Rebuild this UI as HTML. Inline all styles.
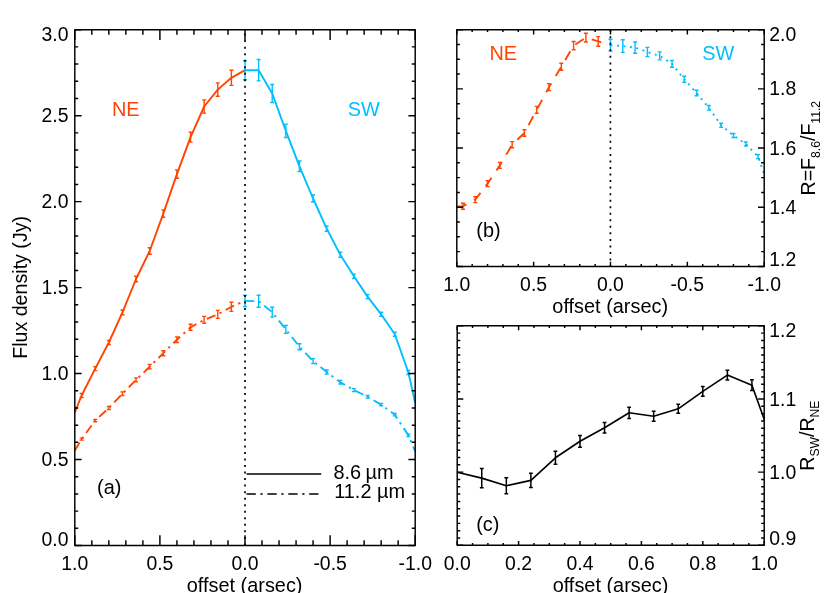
<!DOCTYPE html>
<html><head><meta charset="utf-8"><title>plot</title>
<style>html,body{margin:0;padding:0;background:#fff}svg{display:block;will-change:transform}text{font-family:"Liberation Sans",sans-serif}</style>
</head><body>
<svg width="830" height="593" viewBox="0 0 830 593">
<rect width="830" height="593" fill="#fff"/>
<path d="M74.8 412.5L81.61 395.5L95.22 368.6L108.84 342.5L122.46 312.4L136.07 279L149.69 251L163.3 213.6L176.92 174.1L190.54 137.1L204.15 106.5L217.77 89.6L231.38 77.8L245 70.2" stroke="#FF4500" stroke-width="1.9" fill="none" stroke-linejoin="round"/>
<path d="M81.61 393.5V397.5M79.61 393.5h4M79.61 397.5h4M95.22 366.6V370.6M93.22 366.6h4M93.22 370.6h4M108.84 340.5V344.5M106.84 340.5h4M106.84 344.5h4M122.46 310V314.8M120.46 310h4M120.46 314.8h4M136.07 276.2V281.8M134.07 276.2h4M134.07 281.8h4M149.69 247.8V254.2M147.69 247.8h4M147.69 254.2h4M163.3 209.9V217.3M161.3 209.9h4M161.3 217.3h4M176.92 169.9V178.3M174.92 169.9h4M174.92 178.3h4M190.54 132.1V142.1M188.54 132.1h4M188.54 142.1h4M204.15 99.9V113.1M202.15 99.9h4M202.15 113.1h4M217.77 82.9V96.3M215.77 82.9h4M215.77 96.3h4M231.38 70.2V85.4M229.38 70.2h4M229.38 85.4h4" stroke="#FF4500" stroke-width="1.4" fill="none"/>
<path d="M74.8 450.6L81.61 439.1L95.22 420.6L108.84 408L122.46 393.7L136.07 379.9L149.69 366.7L163.3 353.2L176.92 339.7L190.54 327.3L204.15 319.8L217.77 314.4L231.38 306.8L245 300.9" stroke="#FF4500" stroke-width="1.9" fill="none" stroke-linejoin="round" stroke-dasharray="9.3 4.6 2.3 4.7" stroke-dashoffset="0"/>
<path d="M81.61 438.1V440.1M79.61 438.1h4M79.61 440.1h4M95.22 419.4V421.8M93.22 419.4h4M93.22 421.8h4M108.84 406.5V409.5M106.84 406.5h4M106.84 409.5h4M122.46 391.9V395.5M120.46 391.9h4M120.46 395.5h4M136.07 377.9V381.9M134.07 377.9h4M134.07 381.9h4M149.69 364.5V368.9M147.69 364.5h4M147.69 368.9h4M163.3 350.7V355.7M161.3 350.7h4M161.3 355.7h4M176.92 336.9V342.5M174.92 336.9h4M174.92 342.5h4M190.54 324.3V330.3M188.54 324.3h4M188.54 330.3h4M204.15 316.4V323.2M202.15 316.4h4M202.15 323.2h4M217.77 310.4V318.4M215.77 310.4h4M215.77 318.4h4M231.38 302.2V311.4M229.38 302.2h4M229.38 311.4h4" stroke="#FF4500" stroke-width="1.4" fill="none"/>
<path d="M245 70.2L258.62 70.2L272.23 93.5L285.85 130.8L299.46 166.3L313.08 198.5L326.7 228.6L340.31 254.7L353.93 276.3L367.54 296.6L381.16 314.3L394.78 334.2L408.39 372.5L415.2 403" stroke="#00BFFF" stroke-width="1.9" fill="none" stroke-linejoin="round"/>
<path d="M245 60.7V79.7M243 60.7h4M243 79.7h4M258.62 59.5V80.9M256.62 59.5h4M256.62 80.9h4M272.23 84.5V102.5M270.23 84.5h4M270.23 102.5h4M285.85 124.1V137.5M283.85 124.1h4M283.85 137.5h4M299.46 161V171.6M297.46 161h4M297.46 171.6h4M313.08 195V202M311.08 195h4M311.08 202h4M326.7 226V231.2M324.7 226h4M324.7 231.2h4M340.31 252.2V257.2M338.31 252.2h4M338.31 257.2h4M353.93 274.1V278.5M351.93 274.1h4M351.93 278.5h4M367.54 294.6V298.6M365.54 294.6h4M365.54 298.6h4M381.16 312.3V316.3M379.16 312.3h4M379.16 316.3h4M394.78 332.2V336.2M392.78 332.2h4M392.78 336.2h4M408.39 370.5V374.5M406.39 370.5h4M406.39 374.5h4" stroke="#00BFFF" stroke-width="1.4" fill="none"/>
<path d="M245 300.9L258.62 301.2L272.23 312.2L285.85 329.4L299.46 346.7L313.08 361.1L326.7 372L340.31 382.2L353.93 390.1L367.54 396.8L381.16 404.6L394.78 414.7L408.39 435.3L415.2 451.4" stroke="#00BFFF" stroke-width="1.9" fill="none" stroke-linejoin="round" stroke-dasharray="9.3 4.6 2.3 4.7" stroke-dashoffset="0"/>
<path d="M245 295.2V306.6M243 295.2h4M243 306.6h4M258.62 295.2V307.2M256.62 295.2h4M256.62 307.2h4M272.23 307.3V317.1M270.23 307.3h4M270.23 317.1h4M285.85 325.4V333.4M283.85 325.4h4M283.85 333.4h4M299.46 343.7V349.7M297.46 343.7h4M297.46 349.7h4M313.08 358.6V363.6M311.08 358.6h4M311.08 363.6h4M326.7 370V374M324.7 370h4M324.7 374h4M340.31 380.4V384M338.31 380.4h4M338.31 384h4M353.93 388.6V391.6M351.93 388.6h4M351.93 391.6h4M367.54 395.5V398.1M365.54 395.5h4M365.54 398.1h4M381.16 403.4V405.8M379.16 403.4h4M379.16 405.8h4M394.78 413.5V415.9M392.78 413.5h4M392.78 415.9h4M408.39 434.1V436.5M406.39 434.1h4M406.39 436.5h4" stroke="#00BFFF" stroke-width="1.4" fill="none"/>
<path d="M245 29.7V545.5" stroke="#000" stroke-width="1.7" stroke-dasharray="2 4.537" stroke-dashoffset="2.68" fill="none"/>
<rect x="74.8" y="29.7" width="340.4" height="515.8" fill="none" stroke="#000" stroke-width="1.45" stroke-linejoin="round"/>
<path d="M74.8 545.5v-10.32M74.8 29.7v10.32M91.82 545.5v-5.16M91.82 29.7v5.16M108.84 545.5v-5.16M108.84 29.7v5.16M125.86 545.5v-5.16M125.86 29.7v5.16M142.88 545.5v-5.16M142.88 29.7v5.16M159.9 545.5v-10.32M159.9 29.7v10.32M176.92 545.5v-5.16M176.92 29.7v5.16M193.94 545.5v-5.16M193.94 29.7v5.16M210.96 545.5v-5.16M210.96 29.7v5.16M227.98 545.5v-5.16M227.98 29.7v5.16M245 545.5v-10.32M245 29.7v10.32M262.02 545.5v-5.16M262.02 29.7v5.16M279.04 545.5v-5.16M279.04 29.7v5.16M296.06 545.5v-5.16M296.06 29.7v5.16M313.08 545.5v-5.16M313.08 29.7v5.16M330.1 545.5v-10.32M330.1 29.7v10.32M347.12 545.5v-5.16M347.12 29.7v5.16M364.14 545.5v-5.16M364.14 29.7v5.16M381.16 545.5v-5.16M381.16 29.7v5.16M398.18 545.5v-5.16M398.18 29.7v5.16M415.2 545.5v-10.32M415.2 29.7v10.32M74.8 29.7h6.81M415.2 29.7h-6.81M74.8 46.89h3.4M415.2 46.89h-3.4M74.8 64.09h3.4M415.2 64.09h-3.4M74.8 81.28h3.4M415.2 81.28h-3.4M74.8 98.47h3.4M415.2 98.47h-3.4M74.8 115.67h6.81M415.2 115.67h-6.81M74.8 132.86h3.4M415.2 132.86h-3.4M74.8 150.05h3.4M415.2 150.05h-3.4M74.8 167.25h3.4M415.2 167.25h-3.4M74.8 184.44h3.4M415.2 184.44h-3.4M74.8 201.63h6.81M415.2 201.63h-6.81M74.8 218.83h3.4M415.2 218.83h-3.4M74.8 236.02h3.4M415.2 236.02h-3.4M74.8 253.21h3.4M415.2 253.21h-3.4M74.8 270.41h3.4M415.2 270.41h-3.4M74.8 287.6h6.81M415.2 287.6h-6.81M74.8 304.79h3.4M415.2 304.79h-3.4M74.8 321.99h3.4M415.2 321.99h-3.4M74.8 339.18h3.4M415.2 339.18h-3.4M74.8 356.37h3.4M415.2 356.37h-3.4M74.8 373.57h6.81M415.2 373.57h-6.81M74.8 390.76h3.4M415.2 390.76h-3.4M74.8 407.95h3.4M415.2 407.95h-3.4M74.8 425.15h3.4M415.2 425.15h-3.4M74.8 442.34h3.4M415.2 442.34h-3.4M74.8 459.53h6.81M415.2 459.53h-6.81M74.8 476.73h3.4M415.2 476.73h-3.4M74.8 493.92h3.4M415.2 493.92h-3.4M74.8 511.11h3.4M415.2 511.11h-3.4M74.8 528.31h3.4M415.2 528.31h-3.4M74.8 545.5h6.81M415.2 545.5h-6.81" stroke="#000" stroke-width="1.45" fill="none"/>
<path d="M246.5 474.1H321.2" stroke="#000" stroke-width="1.5" fill="none"/>
<path d="M246.5 494H319" stroke="#000" stroke-width="1.5" stroke-dasharray="9.3 4.6 2.3 4.7" fill="none"/>
<text transform="translate(333.4 479) scale(1 1.06)" font-size="19.9" text-anchor="start" fill="#000">8.6</text>
<text transform="translate(365.6 479) scale(1 1.06)" font-size="19.9" text-anchor="start" fill="#000">&#181;m</text>
<text transform="translate(334.2 498.2) scale(1 1.06)" font-size="19.9" text-anchor="start" fill="#000">11.2 &#181;m</text>
<text transform="translate(112 115.8) scale(1 1.06)" font-size="19.9" text-anchor="start" fill="#FF4500">NE</text>
<text transform="translate(347.8 115.8) scale(1 1.06)" font-size="19.9" text-anchor="start" fill="#00BFFF">SW</text>
<text transform="translate(97 493.6) scale(1 1.06)" font-size="19.9" text-anchor="start" fill="#000">(a)</text>
<text transform="translate(68.5 40.9) scale(1 1.08)" font-size="19.4" text-anchor="end" fill="#000">3.0</text>
<text transform="translate(68.5 122.2) scale(1 1.08)" font-size="19.4" text-anchor="end" fill="#000">2.5</text>
<text transform="translate(68.5 208.2) scale(1 1.08)" font-size="19.4" text-anchor="end" fill="#000">2.0</text>
<text transform="translate(68.5 294.2) scale(1 1.08)" font-size="19.4" text-anchor="end" fill="#000">1.5</text>
<text transform="translate(68.5 380.2) scale(1 1.08)" font-size="19.4" text-anchor="end" fill="#000">1.0</text>
<text transform="translate(68.5 466.2) scale(1 1.08)" font-size="19.4" text-anchor="end" fill="#000">0.5</text>
<text transform="translate(68.5 545.5) scale(1 1.08)" font-size="19.4" text-anchor="end" fill="#000">0.0</text>
<text transform="translate(74.8 569.7) scale(1 1.08)" font-size="19.4" text-anchor="middle" fill="#000">1.0</text>
<text transform="translate(159.9 569.7) scale(1 1.08)" font-size="19.4" text-anchor="middle" fill="#000">0.5</text>
<text transform="translate(245 569.7) scale(1 1.08)" font-size="19.4" text-anchor="middle" fill="#000">0.0</text>
<text transform="translate(330.1 569.7) scale(1 1.08)" font-size="19.4" text-anchor="middle" fill="#000">-0.5</text>
<text transform="translate(415.2 569.7) scale(1 1.08)" font-size="19.4" text-anchor="middle" fill="#000">-1.0</text>
<text transform="translate(244.6 591.6) scale(1 1.06)" font-size="19.9" text-anchor="middle" fill="#000">offset (arsec)</text>
<text transform="translate(27.2 287.4) rotate(-90) scale(1 1.06)" font-size="19.65" text-anchor="middle">Flux density (Jy)</text>
<path d="M456.8 206.7L462.95 206.2L475.24 199.6L487.54 183.6L499.84 165.4L512.13 144.7L524.43 133L536.72 109.8L549.02 87.1L561.32 66.8L573.61 45.6L585.91 37.6L598.2 41.4L610.4 45.2" stroke="#FF4500" stroke-width="1.9" fill="none" stroke-linejoin="round" stroke-dasharray="10 8.7" stroke-dashoffset="0"/>
<path d="M462.95 203.2V209.2M460.95 203.2h4M460.95 209.2h4M475.24 196.6V202.6M473.24 196.6h4M473.24 202.6h4M487.54 180.6V186.6M485.54 180.6h4M485.54 186.6h4M499.84 162.4V168.4M497.84 162.4h4M497.84 168.4h4M512.13 141.6V147.8M510.13 141.6h4M510.13 147.8h4M524.43 129.8V136.2M522.43 129.8h4M522.43 136.2h4M536.72 106.4V113.2M534.72 106.4h4M534.72 113.2h4M549.02 83.6V90.6M547.02 83.6h4M547.02 90.6h4M561.32 63.3V70.3M559.32 63.3h4M559.32 70.3h4M573.61 41.5V49.7M571.61 41.5h4M571.61 49.7h4M585.91 33.2V42M583.91 33.2h4M583.91 42h4M598.2 36.6V46.2M596.2 36.6h4M596.2 46.2h4" stroke="#FF4500" stroke-width="1.4" fill="none"/>
<path d="M610.5 45.2L622.8 46.1L635.09 47.6L647.39 52L659.68 55.9L671.98 63.8L684.28 79.3L696.57 93L708.87 107.8L721.16 125.3L733.46 135.5L745.76 144L758.05 156.6L764.2 174.3" stroke="#00BFFF" stroke-width="1.9" fill="none" stroke-linejoin="round" stroke-dasharray="2 4.5" stroke-dashoffset="0"/>
<path d="M610.5 39.3V51.1M608.5 39.3h4M608.5 51.1h4M622.8 39.8V52.4M620.8 39.8h4M620.8 52.4h4M635.09 42V53.2M633.09 42h4M633.09 53.2h4M647.39 47.4V56.6M645.39 47.4h4M645.39 56.6h4M659.68 51.9V59.9M657.68 51.9h4M657.68 59.9h4M671.98 60.4V67.2M669.98 60.4h4M669.98 67.2h4M684.28 76.3V82.3M682.28 76.3h4M682.28 82.3h4M696.57 90.2V95.8M694.57 90.2h4M694.57 95.8h4M708.87 105.5V110.1M706.87 105.5h4M706.87 110.1h4M721.16 123.2V127.4M719.16 123.2h4M719.16 127.4h4M733.46 133.5V137.5M731.46 133.5h4M731.46 137.5h4M745.76 142V146M743.76 142h4M743.76 146h4M758.05 154.6V158.6M756.05 154.6h4M756.05 158.6h4" stroke="#00BFFF" stroke-width="1.4" fill="none"/>
<path d="M610.4 29.7V266.4" stroke="#000" stroke-width="1.7" stroke-dasharray="2 4.537" stroke-dashoffset="0" fill="none"/>
<rect x="456.8" y="29.7" width="307.4" height="236.7" fill="none" stroke="#000" stroke-width="1.45" stroke-linejoin="round"/>
<path d="M456.8 266.4v-4.73M456.8 29.7v4.73M472.17 266.4v-2.37M472.17 29.7v2.37M487.54 266.4v-2.37M487.54 29.7v2.37M502.91 266.4v-2.37M502.91 29.7v2.37M518.28 266.4v-2.37M518.28 29.7v2.37M533.65 266.4v-4.73M533.65 29.7v4.73M549.02 266.4v-2.37M549.02 29.7v2.37M564.39 266.4v-2.37M564.39 29.7v2.37M579.76 266.4v-2.37M579.76 29.7v2.37M595.13 266.4v-2.37M595.13 29.7v2.37M610.5 266.4v-4.73M610.5 29.7v4.73M625.87 266.4v-2.37M625.87 29.7v2.37M641.24 266.4v-2.37M641.24 29.7v2.37M656.61 266.4v-2.37M656.61 29.7v2.37M671.98 266.4v-2.37M671.98 29.7v2.37M687.35 266.4v-4.73M687.35 29.7v4.73M702.72 266.4v-2.37M702.72 29.7v2.37M718.09 266.4v-2.37M718.09 29.7v2.37M733.46 266.4v-2.37M733.46 29.7v2.37M748.83 266.4v-2.37M748.83 29.7v2.37M764.2 266.4v-4.73M764.2 29.7v4.73M456.8 29.7h6.15M764.2 29.7h-6.15M456.8 44.49h3.07M764.2 44.49h-3.07M456.8 59.29h3.07M764.2 59.29h-3.07M456.8 74.08h3.07M764.2 74.08h-3.07M456.8 88.88h6.15M764.2 88.88h-6.15M456.8 103.67h3.07M764.2 103.67h-3.07M456.8 118.46h3.07M764.2 118.46h-3.07M456.8 133.26h3.07M764.2 133.26h-3.07M456.8 148.05h6.15M764.2 148.05h-6.15M456.8 162.84h3.07M764.2 162.84h-3.07M456.8 177.64h3.07M764.2 177.64h-3.07M456.8 192.43h3.07M764.2 192.43h-3.07M456.8 207.22h6.15M764.2 207.22h-6.15M456.8 222.02h3.07M764.2 222.02h-3.07M456.8 236.81h3.07M764.2 236.81h-3.07M456.8 251.61h3.07M764.2 251.61h-3.07M456.8 266.4h6.15M764.2 266.4h-6.15" stroke="#000" stroke-width="1.45" fill="none"/>
<text transform="translate(489.5 59.6) scale(1 1.06)" font-size="19.9" text-anchor="start" fill="#FF4500">NE</text>
<text transform="translate(702.3 59.6) scale(1 1.06)" font-size="19.9" text-anchor="start" fill="#00BFFF">SW</text>
<text transform="translate(476.3 236.6) scale(1 1.06)" font-size="19.9" text-anchor="start" fill="#000">(b)</text>
<text transform="translate(769.3 41.1) scale(1 1.08)" font-size="19.4" text-anchor="start" fill="#000">2.0</text>
<text transform="translate(769.3 95.2) scale(1 1.08)" font-size="19.4" text-anchor="start" fill="#000">1.8</text>
<text transform="translate(769.3 154.5) scale(1 1.08)" font-size="19.4" text-anchor="start" fill="#000">1.6</text>
<text transform="translate(769.3 213.7) scale(1 1.08)" font-size="19.4" text-anchor="start" fill="#000">1.4</text>
<text transform="translate(769.3 266.3) scale(1 1.08)" font-size="19.4" text-anchor="start" fill="#000">1.2</text>
<text transform="translate(456.8 291.4) scale(1 1.08)" font-size="19.4" text-anchor="middle" fill="#000">1.0</text>
<text transform="translate(533.6 291.4) scale(1 1.08)" font-size="19.4" text-anchor="middle" fill="#000">0.5</text>
<text transform="translate(610.4 291.4) scale(1 1.08)" font-size="19.4" text-anchor="middle" fill="#000">0.0</text>
<text transform="translate(687.3 291.4) scale(1 1.08)" font-size="19.4" text-anchor="middle" fill="#000">-0.5</text>
<text transform="translate(764.2 291.4) scale(1 1.08)" font-size="19.4" text-anchor="middle" fill="#000">-1.0</text>
<text transform="translate(610.2 312.5) scale(1 1.06)" font-size="19.9" text-anchor="middle" fill="#000">offset (arsec)</text>
<text transform="translate(814.8 148.2) rotate(-90) scale(1 1.06)" font-size="19.6" text-anchor="middle">R=F<tspan font-size="12.15" dy="4.6">8.6</tspan><tspan dy="-4.6">/F</tspan><tspan font-size="12.15" dy="4.6">11.2</tspan></text>
<path d="M457.2 472.3L481.76 478.1L506.32 485.7L530.88 480.4L555.44 457.8L580 441.3L604.56 427.7L629.12 412.8L653.68 416.2L678.24 408.8L702.8 391.4L727.36 375.1L751.92 385.2L764.2 419.3" stroke="#000" stroke-width="1.65" fill="none" stroke-linejoin="round"/>
<path d="M481.76 468.4V487.8M479.86 468.4h3.8M479.86 487.8h3.8M506.32 477.7V493.7M504.42 477.7h3.8M504.42 493.7h3.8M530.88 473.2V487.6M528.98 473.2h3.8M528.98 487.6h3.8M555.44 451.3V464.3M553.54 451.3h3.8M553.54 464.3h3.8M580 435.4V447.2M578.1 435.4h3.8M578.1 447.2h3.8M604.56 422.4V433M602.66 422.4h3.8M602.66 433h3.8M629.12 407.2V418.4M627.22 407.2h3.8M627.22 418.4h3.8M653.68 411.2V421.2M651.78 411.2h3.8M651.78 421.2h3.8M678.24 404.3V413.3M676.34 404.3h3.8M676.34 413.3h3.8M702.8 386.5V396.3M700.9 386.5h3.8M700.9 396.3h3.8M727.36 370.2V380M725.46 370.2h3.8M725.46 380h3.8M751.92 379.8V390.6M750.02 379.8h3.8M750.02 390.6h3.8" stroke="#000" stroke-width="1.5" fill="none"/>
<rect x="457.2" y="325.8" width="307" height="219.5" fill="none" stroke="#000" stroke-width="1.45" stroke-linejoin="round"/>
<path d="M457.2 545.3v-4.39M457.2 325.8v4.39M472.55 545.3v-2.19M472.55 325.8v2.19M487.9 545.3v-2.19M487.9 325.8v2.19M503.25 545.3v-2.19M503.25 325.8v2.19M518.6 545.3v-4.39M518.6 325.8v4.39M533.95 545.3v-2.19M533.95 325.8v2.19M549.3 545.3v-2.19M549.3 325.8v2.19M564.65 545.3v-2.19M564.65 325.8v2.19M580 545.3v-4.39M580 325.8v4.39M595.35 545.3v-2.19M595.35 325.8v2.19M610.7 545.3v-2.19M610.7 325.8v2.19M626.05 545.3v-2.19M626.05 325.8v2.19M641.4 545.3v-4.39M641.4 325.8v4.39M656.75 545.3v-2.19M656.75 325.8v2.19M672.1 545.3v-2.19M672.1 325.8v2.19M687.45 545.3v-2.19M687.45 325.8v2.19M702.8 545.3v-4.39M702.8 325.8v4.39M718.15 545.3v-2.19M718.15 325.8v2.19M733.5 545.3v-2.19M733.5 325.8v2.19M748.85 545.3v-2.19M748.85 325.8v2.19M764.2 545.3v-4.39M764.2 325.8v4.39M457.2 325.8h6.14M764.2 325.8h-6.14M457.2 333.12h3.07M764.2 333.12h-3.07M457.2 340.43h3.07M764.2 340.43h-3.07M457.2 347.75h3.07M764.2 347.75h-3.07M457.2 355.07h3.07M764.2 355.07h-3.07M457.2 362.38h3.07M764.2 362.38h-3.07M457.2 369.7h3.07M764.2 369.7h-3.07M457.2 377.02h3.07M764.2 377.02h-3.07M457.2 384.33h3.07M764.2 384.33h-3.07M457.2 391.65h3.07M764.2 391.65h-3.07M457.2 398.97h6.14M764.2 398.97h-6.14M457.2 406.28h3.07M764.2 406.28h-3.07M457.2 413.6h3.07M764.2 413.6h-3.07M457.2 420.92h3.07M764.2 420.92h-3.07M457.2 428.23h3.07M764.2 428.23h-3.07M457.2 435.55h3.07M764.2 435.55h-3.07M457.2 442.87h3.07M764.2 442.87h-3.07M457.2 450.18h3.07M764.2 450.18h-3.07M457.2 457.5h3.07M764.2 457.5h-3.07M457.2 464.82h3.07M764.2 464.82h-3.07M457.2 472.13h6.14M764.2 472.13h-6.14M457.2 479.45h3.07M764.2 479.45h-3.07M457.2 486.77h3.07M764.2 486.77h-3.07M457.2 494.08h3.07M764.2 494.08h-3.07M457.2 501.4h3.07M764.2 501.4h-3.07M457.2 508.72h3.07M764.2 508.72h-3.07M457.2 516.03h3.07M764.2 516.03h-3.07M457.2 523.35h3.07M764.2 523.35h-3.07M457.2 530.67h3.07M764.2 530.67h-3.07M457.2 537.98h3.07M764.2 537.98h-3.07M457.2 545.3h6.14M764.2 545.3h-6.14" stroke="#000" stroke-width="1.45" fill="none"/>
<text transform="translate(476.2 530.8) scale(1 1.06)" font-size="19.9" text-anchor="start" fill="#000">(c)</text>
<text transform="translate(769.3 337.3) scale(1 1.08)" font-size="19.4" text-anchor="start" fill="#000">1.2</text>
<text transform="translate(769.3 405.7) scale(1 1.08)" font-size="19.4" text-anchor="start" fill="#000">1.1</text>
<text transform="translate(769.3 478.8) scale(1 1.08)" font-size="19.4" text-anchor="start" fill="#000">1.0</text>
<text transform="translate(769.3 545.3) scale(1 1.08)" font-size="19.4" text-anchor="start" fill="#000">0.9</text>
<text transform="translate(457.2 569.7) scale(1 1.08)" font-size="19.4" text-anchor="middle" fill="#000">0.0</text>
<text transform="translate(518.6 569.7) scale(1 1.08)" font-size="19.4" text-anchor="middle" fill="#000">0.2</text>
<text transform="translate(580 569.7) scale(1 1.08)" font-size="19.4" text-anchor="middle" fill="#000">0.4</text>
<text transform="translate(641.4 569.7) scale(1 1.08)" font-size="19.4" text-anchor="middle" fill="#000">0.6</text>
<text transform="translate(702.8 569.7) scale(1 1.08)" font-size="19.4" text-anchor="middle" fill="#000">0.8</text>
<text transform="translate(764.2 569.7) scale(1 1.08)" font-size="19.4" text-anchor="middle" fill="#000">1.0</text>
<text transform="translate(610.5 591.6) scale(1 1.06)" font-size="19.9" text-anchor="middle" fill="#000">offset (arsec)</text>
<text transform="translate(813.8 435.6) rotate(-90) scale(1 1.06)" font-size="19.6" text-anchor="middle">R<tspan font-size="12.15" dy="4.6">SW</tspan><tspan dy="-4.6">/R</tspan><tspan font-size="12.15" dy="4.6">NE</tspan></text>
</svg></body></html>
